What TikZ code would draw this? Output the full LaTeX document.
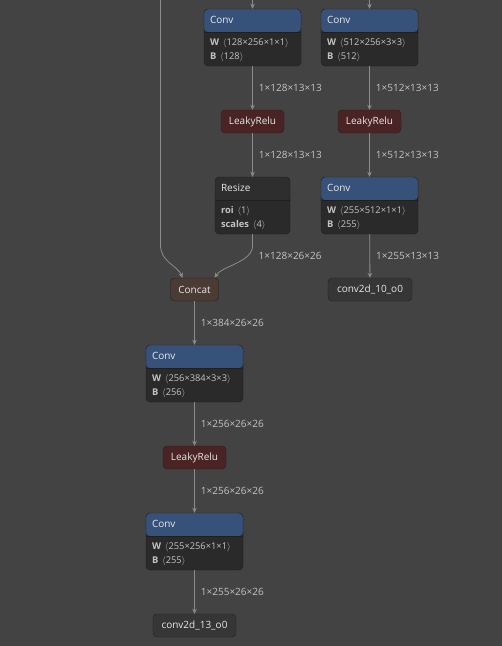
\documentclass[tikz,border=0pt]{standalone}
\usepackage{fontspec}
\setmainfont{Open Sans}
\usetikzlibrary{arrows.meta,positioning,calc}

\definecolor{bg}{HTML}{434343}
\definecolor{convblue}{HTML}{37527A}
\definecolor{bodygray}{HTML}{2A2A2A}
\definecolor{headgray}{HTML}{2E2E2E}
\definecolor{nodeline}{HTML}{1F1F1F}
\definecolor{relured}{HTML}{4A2424}
\definecolor{catbrown}{HTML}{4A3B35}
\definecolor{outgray}{HTML}{363636}
\definecolor{edgegray}{HTML}{8C8C8C}
\definecolor{labelgray}{HTML}{C4C4C4}
\definecolor{titlewhite}{HTML}{E8E8E8}

\begin{document}
\begin{tikzpicture}[
            x=1pt, y=-1pt,
            opbox/.style={
                draw=nodeline,
                fill=bodygray,
                rounded corners=4pt,
                minimum width=97pt,
                minimum height=57pt,
                inner sep=0pt,
                path picture={
                    \fill[#1] (path picture bounding box.north west)
                        rectangle ([yshift=-23pt]path picture bounding box.north east);
                    \draw[nodeline] ([yshift=-23pt]path picture bounding box.north west)
                        -- ([yshift=-23pt]path picture bounding box.north east);
                }
            },
            smallop/.style={
                draw=nodeline,
                fill=#1,
                rounded corners=4pt,
                minimum height=23pt,
                inner sep=0pt,
                text=titlewhite,
                font=\fontsize{10}{12}\selectfont
            },
            optitle/.style={
                anchor=west,
                text=titlewhite,
                inner sep=0pt,
                font=\fontsize{10}{12}\selectfont
            },
            attr/.style={
                anchor=west,
                text=labelgray,
                inner sep=0pt,
                font=\fontsize{9.3}{11}\selectfont
            },
            link/.style={
                draw=edgegray,
                line width=0.8pt,
                -{Stealth[length=5pt,width=4.5pt]}
            },
            dims/.style={
                anchor=west,
                text=labelgray,
                inner sep=0pt,
                xshift=6pt,
                font=\fontsize{10}{12}\selectfont
            }
        ]

% Canvas
            \fill[bg] (0,0) rectangle (502,646);
            \useasboundingbox (0,0) rectangle (502,646);

% Angle brackets for attribute shapes
            \def\shp#1{\,\ensuremath{\langle}#1\ensuremath{\rangle}}

% --- Conv / Resize blocks ---
            \node[opbox=convblue] (conv1) at (252.5,37.5) {};
            \node[opbox=convblue] (conv2) at (369.5,37.5) {};
            \node[opbox=headgray, minimum width=75pt] (resize) at (252.5,205.5) {};
            \node[opbox=convblue] (conv3) at (369.5,205.5) {};
            \node[opbox=convblue] (conv4) at (194.5,373.5) {};
            \node[opbox=convblue] (conv5) at (194.5,541.5) {};

% Block titles and attributes
            \foreach \n/\t/\a/\b in {
                conv1/Conv/{\textbf{W} \shp{128×256×1×1}}/{\textbf{B} \shp{128}},
                conv2/Conv/{\textbf{W} \shp{512×256×3×3}}/{\textbf{B} \shp{512}},
                resize/Resize/{\textbf{roi} \shp{1}}/{\textbf{scales} \shp{4}},
                conv3/Conv/{\textbf{W} \shp{255×512×1×1}}/{\textbf{B} \shp{255}},
                conv4/Conv/{\textbf{W} \shp{256×384×3×3}}/{\textbf{B} \shp{256}},
                conv5/Conv/{\textbf{W} \shp{255×256×1×1}}/{\textbf{B} \shp{255}}} {
                \node[optitle] (\n t) at ([xshift=6pt,yshift=-11.5pt]\n.north west) {\t};
                \node[attr] (\n w) at ([xshift=6pt,yshift=-34pt]\n.north west) {\a};
                \node[attr] (\n b) at ([xshift=6pt,yshift=-48pt]\n.north west) {\b};
            }

% --- Single line operators and outputs ---
            \node[smallop=relured, minimum width=63pt] (relu1) at (252.5,121.5) {LeakyRelu};
            \node[smallop=relured, minimum width=63pt] (relu2) at (369.5,121.5) {LeakyRelu};
            \node[smallop=catbrown, minimum width=48pt] (concat) at (194.5,289.5) {Concat};
            \node[smallop=outgray, minimum width=84pt] (out10) at (370,289.5) {conv2d\_10\_o0};
            \node[smallop=relured, minimum width=63pt] (relu3) at (194.5,457.5) {LeakyRelu};
            \node[smallop=outgray, minimum width=83pt] (out13) at (194.5,625.5) {conv2d\_13\_o0};

% Incoming edges from above the view
            \coordinate (in1) at (252.5,-2);
            \coordinate (in2) at (369.5,-2);
            \coordinate (skip) at (160.5,-2);
            \draw[link] (in1) -- (conv1);
            \draw[link] (in2) -- (conv2);

% --- Edges with tensor shapes ---
            \draw[link] (conv1) -- node[dims] {1×128×13×13} (relu1);
            \draw[link] (conv2) -- node[dims] {1×512×13×13} (relu2);
            \draw[link] (relu1) -- node[dims] {1×128×13×13} (resize);
            \draw[link] (relu2) -- node[dims] {1×512×13×13} (conv3);
            \draw[link] (conv3) -- node[dims] {1×255×13×13} (out10);
            \draw[link] (concat) -- node[dims] {1×384×26×26} (conv4);
            \draw[link] (conv4) -- node[dims] {1×256×26×26} (relu3);
            \draw[link] (relu3) -- node[dims] {1×256×26×26} (conv5);
            \draw[link] (conv5) -- node[dims] {1×255×26×26} (out13);

% Curved edges into Concat
            \draw[link] (skip) -- (160.5,245)
                .. controls (160.5,262) and (178,266) .. ([xshift=-12pt]concat.north);
            \draw[link] (resize.south) -- (252.5,246)
                .. controls (252.5,262) and (222,266) .. ([xshift=20pt]concat.north);
            \node[dims] (lbl) at (252.5,256) {1×128×26×26};

        \end{tikzpicture}
\end{document}
